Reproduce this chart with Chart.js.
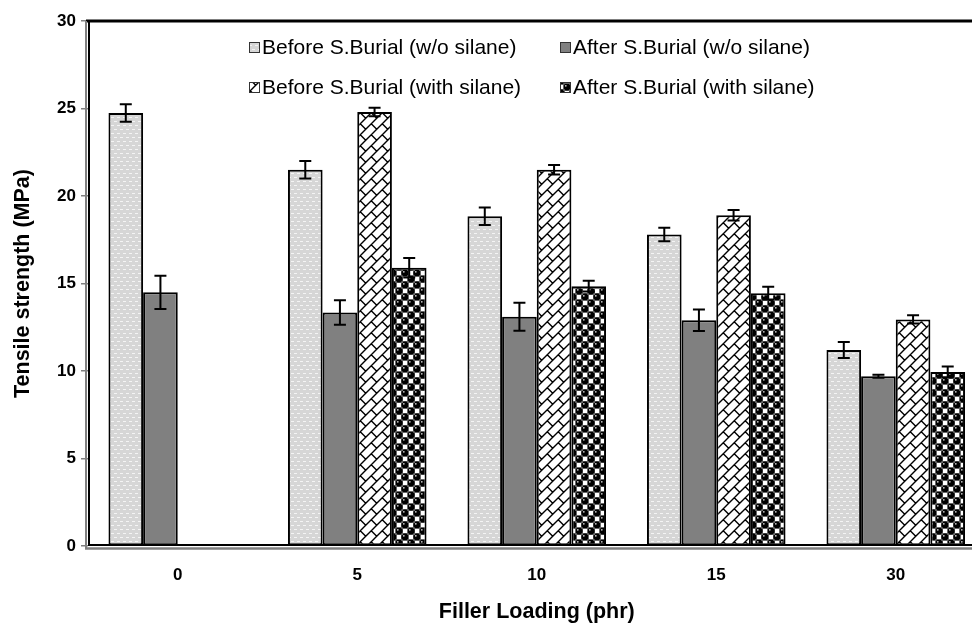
<!DOCTYPE html>
<html>
<head>
<meta charset="utf-8">
<script src="https://cdn.jsdelivr.net/npm/chart.js@4"></script>
<style>
  html, body { margin: 0; padding: 0; background: #fff; overflow: hidden; }
  #wrap { width: 990px; height: 627px; }
</style>
</head>
<body>
<div id="wrap"><canvas id="myChart" width="990" height="627"></canvas></div>
<script>
var categories = ['0', '5', '10', '15', '30'];

var beforeNoSilane    = [24.75, 21.5, 18.85, 17.8, 11.2];
var beforeNoSilaneErr = [0.5, 0.5, 0.5, 0.38, 0.46];
var afterNoSilane     = [14.5, 13.35, 13.1, 12.9, 9.7];
var afterNoSilaneErr  = [0.95, 0.7, 0.8, 0.62, 0.08];
var beforeSilane      = [null, 24.8, 21.5, 18.9, 12.95];
var beforeSilaneErr   = [0, 0.24, 0.27, 0.3, 0.24];
var afterSilane       = [null, 15.9, 14.85, 14.45, 9.95];
var afterSilaneErr    = [0, 0.56, 0.31, 0.37, 0.31];

var seriesLabels = [
  'Before S.Burial (w/o silane)',
  'After S.Burial (w/o silane)',
  'Before S.Burial (with silane)',
  'After S.Burial (with silane)'
];
var yTicks = [0, 5, 10, 15, 20, 25, 30];

// fill patterns
function tile(w, h, draw) {
  var c = document.createElement('canvas');
  c.width = w; c.height = h;
  var g = c.getContext('2d');
  draw(g);
  return g.createPattern(c, 'repeat');
}

var dottedGrey = tile(6, 8, function (g) {
  g.fillStyle = '#d6d6d6';
  g.fillRect(0, 0, 6, 8);
  g.fillStyle = '#f4f4f4';
  g.fillRect(0, 1, 3, 1);
  g.fillRect(3, 5, 3, 1);
});

var brick = tile(11, 11, function (g) {
  g.fillStyle = '#fff';
  g.fillRect(0, 0, 11, 11);
  g.strokeStyle = '#000';
  g.lineWidth = 1.4;
  g.beginPath();
  g.moveTo(-1, 12); g.lineTo(12, -1);
  g.moveTo(10, 12); g.lineTo(12, 10);
  g.moveTo(-1, 1); g.lineTo(1, -1);
  g.moveTo(8.25, 2.75); g.lineTo(11.5, 6);
  g.moveTo(-0.5, 5); g.lineTo(2.75, 8.25);
  g.stroke();
});

var spheres = tile(12, 12, function (g) {
  g.fillStyle = '#fff';
  g.fillRect(0, 0, 12, 12);
  g.strokeStyle = '#666';
  g.lineWidth = 1;
  g.strokeRect(6.5, 0.5, 5, 5);
  g.strokeRect(0.5, 6.5, 5, 5);
  [[3, 3], [9, 9]].forEach(function (p) {
    g.fillStyle = '#000';
    g.beginPath(); g.arc(p[0], p[1], 3.6, 0, Math.PI * 2); g.fill();
    g.fillStyle = '#ccc';
    g.beginPath(); g.arc(p[0] - 1.2, p[1] - 1.2, 0.9, 0, Math.PI * 2); g.fill();
  });
});

var fills = [dottedGrey, '#808080', brick, spheres];
var errs = [beforeNoSilaneErr, afterNoSilaneErr, beforeSilaneErr, afterSilaneErr];
var values = [beforeNoSilane, afterNoSilane, beforeSilane, afterSilane];

var extras = {
  id: 'extras',
  afterDatasetsDraw: function (chart) {
    var ctx = chart.ctx;
    var y = chart.scales.y;
    var area = chart.chartArea;
    ctx.save();

    // error bars
    ctx.strokeStyle = '#000';
    ctx.lineWidth = 2;
    chart.data.datasets.forEach(function (ds, i) {
      var meta = chart.getDatasetMeta(i);
      meta.data.forEach(function (bar, j) {
        var v = ds.data[j];
        var e = errs[i][j];
        if (v == null || !e) return;
        var x = bar.x;
        var top = y.getPixelForValue(v + e);
        var bot = y.getPixelForValue(v - e);
        ctx.beginPath();
        ctx.moveTo(x, top); ctx.lineTo(x, bot);
        ctx.moveTo(x - 6, top); ctx.lineTo(x + 6, top);
        ctx.moveTo(x - 6, bot); ctx.lineTo(x + 6, bot);
        ctx.stroke();
      });
    });

    // plot frame
    ctx.lineWidth = 3;
    ctx.strokeStyle = '#000';
    ctx.beginPath(); ctx.moveTo(86, area.top); ctx.lineTo(chart.width, area.top); ctx.stroke();
    ctx.lineWidth = 2;
    ctx.beginPath(); ctx.moveTo(area.left + 1, area.top); ctx.lineTo(area.left + 1, area.bottom); ctx.stroke();
    ctx.beginPath(); ctx.moveTo(area.left, area.bottom - 1); ctx.lineTo(chart.width, area.bottom - 1); ctx.stroke();
    ctx.strokeStyle = '#808080';
    ctx.beginPath(); ctx.moveTo(area.left - 2, area.top); ctx.lineTo(area.left - 2, area.bottom + 3); ctx.stroke();
    ctx.lineWidth = 2.5;
    ctx.beginPath(); ctx.moveTo(area.left - 3, area.bottom + 2.5); ctx.lineTo(chart.width, area.bottom + 2.5); ctx.stroke();

    // legend (two rows inside the plot)
    var boxX = [249, 560];
    var rowY = [47, 87];
    ctx.font = '21px "Liberation Sans", Arial, sans-serif';
    ctx.textBaseline = 'middle';
    ctx.textAlign = 'left';
    seriesLabels.forEach(function (lab, i) {
      var bx = boxX[i % 2];
      var by = rowY[Math.floor(i / 2)];
      ctx.fillStyle = fills[i];
      ctx.fillRect(bx, by - 5, 11, 11);
      ctx.strokeStyle = '#333';
      ctx.lineWidth = 1;
      ctx.strokeRect(bx + 0.5, by - 4.5, 10, 10);
      ctx.fillStyle = '#000';
      ctx.fillText(lab, bx + 13, by + 1);
    });
    ctx.restore();
  }
};

var ctx = document.getElementById('myChart').getContext('2d');
var myChart = new Chart(ctx, {
  type: 'bar',
  data: {
    labels: categories,
    datasets: values.map(function (v, i) {
      return {
        label: seriesLabels[i],
        data: v,
        backgroundColor: fills[i],
        borderColor: '#000',
        borderWidth: 2,
        borderSkipped: false,
        categoryPercentage: 0.772,
        barPercentage: 1
      };
    })
  },
  options: {
    responsive: false,
    animation: false,
    devicePixelRatio: 1,
    layout: { padding: { left: 0, top: 21, right: 4.5, bottom: 0 } },
    plugins: {
      legend: { display: false },
      tooltip: { enabled: false }
    },
    scales: {
      x: {
        grid: { display: false },
        border: { display: false },
        ticks: {
          color: '#000',
          padding: 11,
          font: { family: '"Liberation Sans", Arial, sans-serif', size: 17, weight: 'bold' }
        },
        title: {
          display: true,
          text: 'Filler Loading (phr)',
          color: '#000',
          padding: { top: 0, bottom: 2 },
          font: { family: '"Liberation Sans", Arial, sans-serif', size: 21.5, weight: 'bold' }
        },
        afterFit: function (s) { s.height = 81; }
      },
      y: {
        min: 0,
        max: 30,
        afterBuildTicks: function (s) { s.ticks = yTicks.map(function (v) { return { value: v }; }); },
        grid: { drawOnChartArea: false, drawTicks: true, tickLength: 7, color: '#808080', lineWidth: 1.5 },
        border: { display: false },
        ticks: {
          color: '#000',
          padding: 5,
          font: { family: '"Liberation Sans", Arial, sans-serif', size: 17, weight: 'bold' }
        },
        title: {
          display: true,
          text: 'Tensile strength (MPa)',
          color: '#000',
          padding: { top: 10, bottom: 0 },
          font: { family: '"Liberation Sans", Arial, sans-serif', size: 21.5, weight: 'bold' }
        },
        afterFit: function (s) { s.width = 88; }
      }
    }
  },
  plugins: [extras]
});
</script>
</body>
</html>
